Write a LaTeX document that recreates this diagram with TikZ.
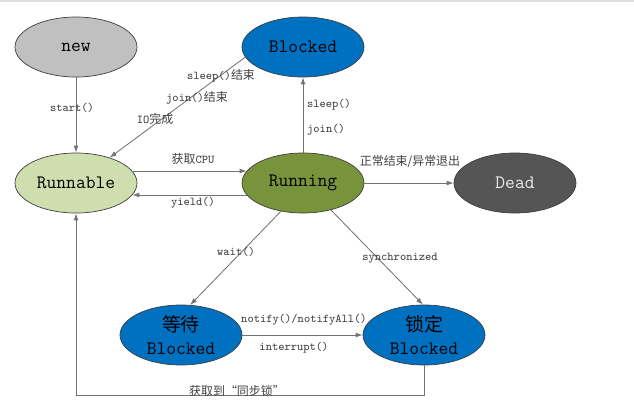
\documentclass[tikz,border=0pt]{standalone}
\usepackage{fontspec}
\newfontfamily\cjk{Noto Sans CJK SC}
\usetikzlibrary{shapes.geometric,arrows.meta}
\definecolor{newgray}{HTML}{C0C0C0}
\definecolor{blockblue}{HTML}{0070C0}
\definecolor{runnablegreen}{HTML}{CFDEAE}
\definecolor{runninggreen}{HTML}{77933C}
\definecolor{deadgray}{HTML}{555555}

\begin{document}
\begin{tikzpicture}[x=0.025cm,y=-0.025cm,>={Latex[length=5pt,width=3.5pt]},
    state/.style={ellipse,draw=black!75,line width=0.5pt,minimum width=3.05cm,minimum height=1.5cm,
        inner sep=0pt,align=center,font=\fontsize{13.5}{16.5}\selectfont\ttfamily},
    lbl/.style={inner sep=0pt,text=black!75,font=\fontsize{8.5}{10}\selectfont\ttfamily},
    conn/.style={->,draw=black!55,line width=0.6pt}]
    \useasboundingbox(0,0)rectangle(634,409);
    \draw[black!12,line width=1pt](0,1)--(634,1);
    % states
    \node[state,fill=newgray](new)at(76,47){new};
    \node[state,fill=blockblue](blocked)at(303,47){Blocked};
    \node[state,fill=runnablegreen](runnable)at(76,183){Runnable};
    \node[state,fill=runninggreen](running)at(303,183){Running};
    \node[state,fill=deadgray,text=black!8](dead)at(515,183){Dead};
    \node[state,fill=blockblue](waiting)at(181,335){{\cjk 等待}\\Blocked};
    \node[state,fill=blockblue](locked)at(424,335){{\cjk 锁定}\\Blocked};
    % transitions
    \draw[conn](new)--(runnable);
    \draw[conn](blocked.190)--(runnable.37);
    \draw[conn](runnable.12)--(running.168);
    \draw[conn](running.192)--(runnable.348);
    \draw[conn](running)--(blocked);
    \draw[conn](running)--(dead);
    \draw[conn](running.232)--(waiting.73);
    \draw[conn](running.316)--(locked.92);
    \draw[conn](waiting)--(locked);
    \draw[conn](locked.south)--++(0,30)-|(runnable.south);
    % labels
    \node[lbl](start)at(72,108){start()};
    \node[lbl](sleepend)at(221,76){sleep(){\cjk 结束}};
    \node[lbl](joinend)at(197,98){join(){\cjk 结束}};
    \node[lbl](iodone)at(155,119){IO{\cjk 完成}};
    \node[lbl](getcpu)at(193,159){{\cjk 获取}CPU};
    \node[lbl](yield)at(193,203){yield()};
    \node[lbl](sleep)at(329,105){sleep()};
    \node[lbl](join)at(326,130){join()};
    \node[lbl](finish)at(410,162){{\cjk 正常结束/异常退出}};
    \node[lbl](wait)at(236,252){wait()};
    \node[lbl](sync)at(400,258){synchronized};
    \node[lbl](notify)at(304,320){notify()/notifyAll()};
    \node[lbl](interrupt)at(294,348){interrupt()};
    \node[lbl](getlock)at(237,391){{\cjk 获取到“同步锁”}};
\end{tikzpicture}
\end{document}
